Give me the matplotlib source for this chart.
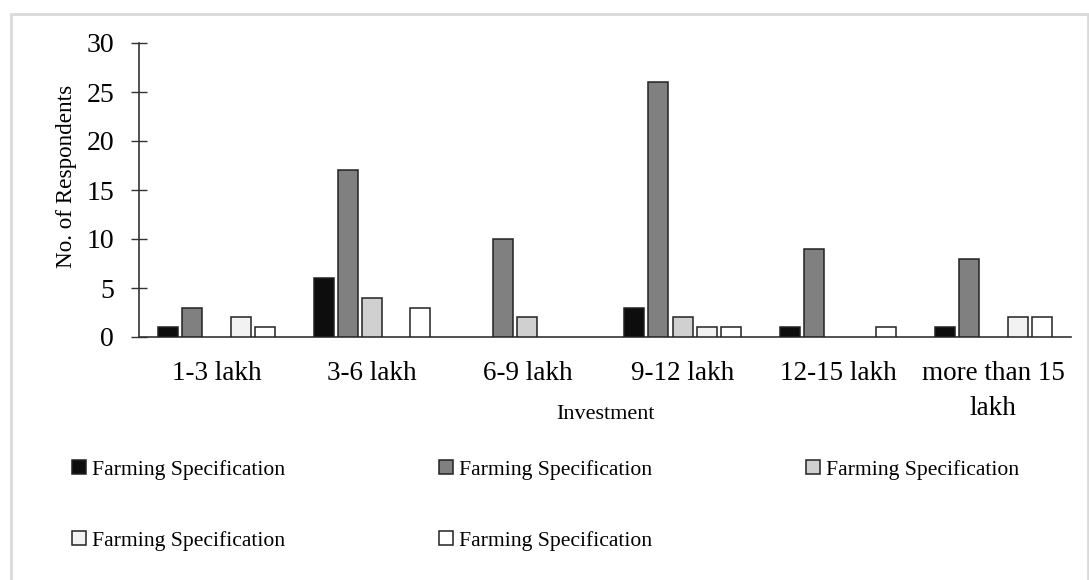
import numpy as np
import matplotlib.pyplot as plt
from matplotlib.patches import Rectangle

plt.rcParams['font.family'] = ['Liberation Serif', 'DejaVu Serif']

categories = ['1-3 lakh', '3-6 lakh', '6-9 lakh', '9-12 lakh', '12-15 lakh',
              'more than 15\nlakh']
series_names = ['Farming Specification'] * 5
s1 = [1, 6, 0, 3, 1, 1]
s2 = [3, 17, 10, 26, 9, 8]
s3 = [0, 4, 2, 2, 0, 0]
s4 = [2, 0, 0, 1, 0, 2]
s5 = [1, 3, 0, 1, 1, 2]
series = [s1, s2, s3, s4, s5]
colors = ['#0d0d0d', '#808080', '#d0d0d0', '#f2f2f2', '#ffffff']

W, H = 1089, 580
fig = plt.figure(figsize=(W / 100, H / 100), dpi=100)
# light grey chart-area border
fig.patches.append(Rectangle((11 / W, -0.01), 1077 / W, 1.01 - 14 / H,
                             transform=fig.transFigure, fill=False,
                             edgecolor='#d9d9d9', linewidth=2))

ax = fig.add_axes([139 / W, 1 - 337 / H, 932 / W, 294 / H])

x = np.arange(len(categories))
slot = 0.156
width = 0.129
handles = []
for i, (vals, c) in enumerate(zip(series, colors)):
    vals = np.array(vals, dtype=float)
    keep = vals > 0  # zero bars would leave an outline on the axis
    b = ax.bar(x[keep] + (i - 2) * slot, vals[keep], width, color=c,
               edgecolor='#222222', linewidth=1.1, label=series_names[i],
               zorder=3)
    handles.append(b)

ax.set_xlim(-0.5, len(categories) - 0.5)
ax.set_ylim(0, 30)
ax.set_yticks(range(0, 31, 5))
ax.set_xticks(x)
ax.set_xticklabels(categories, fontsize=19.5, linespacing=1.55)
ax.tick_params(axis='x', length=0, pad=17)
ax.tick_params(axis='y', direction='inout', length=12, width=1,
               labelsize=20, pad=12, color='#333333')

for s in ['top', 'right']:
    ax.spines[s].set_visible(False)
for s in ['left', 'bottom']:
    ax.spines[s].set_color('#333333')
    ax.spines[s].set_linewidth(1.2)

ax.set_ylabel('No. of Respondents', fontsize=16.7)
ax.yaxis.set_label_coords(-0.067, 0.5476)
ax.set_xlabel('Investment', fontsize=16)
ax.xaxis.set_label_coords(0.5, -0.231)

# legend filled row by row
order = [0, 3, 1, 4, 2]
fig.legend([handles[k] for k in order], [series_names[k] for k in order],
           loc='upper left', bbox_to_anchor=(72 / W, 1 - 460 / H),
           ncol=3, frameon=False, fontsize=15.6, handlelength=0.65,
           handleheight=0.6, handletextpad=0.28, columnspacing=7.1,
           labelspacing=2.35, borderpad=0, borderaxespad=0)

fig.savefig('out.png', dpi=100)
